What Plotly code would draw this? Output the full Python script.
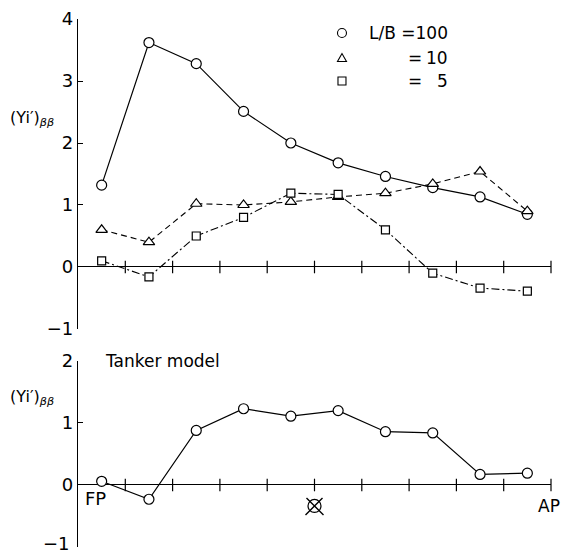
import plotly.graph_objects as go

# Data
stations = [0.5, 1.5, 2.5, 3.5, 4.5, 5.5, 6.5, 7.5, 8.5, 9.5]
lb100 = [1.32, 3.62, 3.28, 2.51, 2.00, 1.68, 1.46, 1.28, 1.13, 0.85]
lb10 = [0.60, 0.40, 1.02, 1.00, 1.05, 1.13, 1.19, 1.34, 1.54, 0.90]
lb5 = [0.10, -0.16, 0.50, 0.80, 1.19, 1.17, 0.60, -0.10, -0.34, -0.39]
tanker = [0.06, -0.23, 0.88, 1.23, 1.11, 1.20, 0.86, 0.84, 0.17, 0.19]
tick_stations = [1, 2, 3, 4, 5, 6, 7, 8, 9, 10]
top_yticks = [-1, 0, 1, 2, 3, 4]
bot_yticks = [-1, 0, 1, 2]

FONT = "DejaVu Sans"
BLK = "black"


def lab(v):
    return ("\u2212" + str(-v)) if v < 0 else str(v)


fig = go.Figure()


def mk(sym, size):
    return dict(symbol=sym, size=size, color="white", line=dict(color=BLK, width=1.2))


# station tick marks on the zero lines
for xa, ya in (("x", "y"), ("x2", "y2")):
    fig.add_trace(go.Scatter(x=tick_stations, y=[0] * len(tick_stations), mode="markers",
                             marker=dict(symbol="line-ns", size=9, line=dict(color=BLK, width=1.2)),
                             xaxis=xa, yaxis=ya, showlegend=False, hoverinfo="skip", cliponaxis=False))

fig.add_trace(go.Scatter(x=stations, y=lb100, mode="lines+markers", line=dict(color=BLK, width=1.2),
                         marker=mk("circle", 10), xaxis="x", yaxis="y", cliponaxis=False, showlegend=False))
fig.add_trace(go.Scatter(x=stations, y=lb10, mode="lines+markers", line=dict(color=BLK, width=1.1, dash="6px,4px"),
                         marker=mk("triangle-up", 10), xaxis="x", yaxis="y", cliponaxis=False, showlegend=False))
fig.add_trace(go.Scatter(x=stations, y=lb5, mode="lines+markers",
                         line=dict(color=BLK, width=1.1, dash="8px,3px,2px,3px"),
                         marker=mk("square", 8), xaxis="x", yaxis="y", cliponaxis=False, showlegend=False))
fig.add_trace(go.Scatter(x=stations, y=tanker, mode="lines+markers", line=dict(color=BLK, width=1.2),
                         marker=mk("circle", 10), xaxis="x2", yaxis="y2", cliponaxis=False, showlegend=False))

yax = dict(showline=True, linecolor=BLK, linewidth=1.2, ticks="inside", ticklen=5, tickcolor=BLK,
           tickwidth=1.2, showgrid=False, zeroline=True, zerolinecolor=BLK, zerolinewidth=1.2,
           tickfont=dict(family=FONT, size=18, color=BLK), fixedrange=True, automargin=False)
xax = dict(range=[0, 10], visible=False, showgrid=False, zeroline=False, automargin=False)

fig.update_layout(
    width=562, height=556,
    margin=dict(l=78, r=11, t=19, b=9, autoexpand=False),
    paper_bgcolor="white", plot_bgcolor="white",
    xaxis=dict(xax, domain=[0, 1], anchor="y"),
    xaxis2=dict(xax, domain=[0, 1], anchor="y2"),
    yaxis=dict(yax, domain=[0.4129, 1], range=[-1, 4], tickvals=top_yticks,
               ticktext=[lab(v) for v in top_yticks], anchor="x"),
    # the lowest label sits at the page edge; it is drawn as an annotation below
    yaxis2=dict(yax, domain=[0, 0.3523], range=[-1, 2], tickvals=bot_yticks,
                ticktext=["" if v == min(bot_yticks) else lab(v) for v in bot_yticks], anchor="x2"),
)

ann = []
ann.append(dict(text=lab(min(bot_yticks)), xref="paper", yref="y2", x=-0.013, y=min(bot_yticks),
                yshift=3, showarrow=False, font=dict(family=FONT, size=18, color=BLK),
                xanchor="right", yanchor="middle"))
ylabel = "(Yi\u2032)<sub><i>\u03b2\u03b2</i></sub>"
for yp in (0.8125, 0.2822):
    ann.append(dict(text=ylabel, xref="paper", yref="paper", x=-0.097, y=yp, showarrow=False,
                    font=dict(family=FONT, size=16, color=BLK), xanchor="center", yanchor="middle"))
ann.append(dict(text="Tanker model", xref="paper", yref="paper", x=0.0529, y=0.3523, showarrow=False,
                font=dict(family=FONT, size=17, color=BLK), xanchor="left", yanchor="middle"))
ann.append(dict(text="FP", xref="paper", yref="paper", x=0.0106, y=0.0928, showarrow=False,
                font=dict(family=FONT, size=18, color=BLK), xanchor="left", yanchor="middle"))
ann.append(dict(text="AP", xref="paper", yref="paper", x=0.969, y=0.0777, showarrow=False,
                font=dict(family=FONT, size=17, color=BLK), xanchor="left", yanchor="middle"))
# legend texts
ann.append(dict(text="L/B =100", xref="paper", yref="paper", x=0.611, y=0.9735, showarrow=False,
                font=dict(family=FONT, size=17, color=BLK), xanchor="left", yanchor="middle"))
for yp, num in ((0.9261, "10"), (0.8826, "5")):
    ann.append(dict(text="=", xref="paper", yref="paper", x=0.694, y=yp, showarrow=False,
                    font=dict(family=FONT, size=17, color=BLK), xanchor="left", yanchor="middle"))
    ann.append(dict(text=num, xref="paper", yref="paper", x=0.7865, y=yp, showarrow=False,
                    font=dict(family=FONT, size=17, color=BLK), xanchor="right", yanchor="middle"))
fig.update_layout(annotations=ann)

shapes = []
lx = 0.5581
shapes.append(dict(type="circle", xref="paper", yref="paper", xsizemode="pixel", ysizemode="pixel",
                   xanchor=lx, yanchor=0.9735, x0=-4.5, x1=4.5, y0=-4.5, y1=4.5,
                   line=dict(color=BLK, width=1.1)))
shapes.append(dict(type="path", xref="paper", yref="paper", xsizemode="pixel", ysizemode="pixel",
                   xanchor=lx, yanchor=0.9261, path="M -4.5 -3.5 L 4.5 -3.5 L 0 4.5 Z",
                   line=dict(color=BLK, width=1.1)))
shapes.append(dict(type="rect", xref="paper", yref="paper", xsizemode="pixel", ysizemode="pixel",
                   xanchor=lx, yanchor=0.8826, x0=-4, x1=4, y0=-4, y1=4,
                   line=dict(color=BLK, width=1.1)))
# midship symbol
shapes.append(dict(type="circle", xref="x2", yref="paper", xsizemode="pixel", ysizemode="pixel",
                   xanchor=5, yanchor=0.0777, x0=-6.5, x1=6.5, y0=-6.5, y1=6.5,
                   line=dict(color=BLK, width=1.2)))
shapes.append(dict(type="path", xref="x2", yref="paper", xsizemode="pixel", ysizemode="pixel",
                   xanchor=5, yanchor=0.0777, path="M -9 -9 L 8 8 M -8 8 L 9 -9",
                   line=dict(color=BLK, width=1.4)))
fig.update_layout(shapes=shapes)

fig.write_html("out.html")
